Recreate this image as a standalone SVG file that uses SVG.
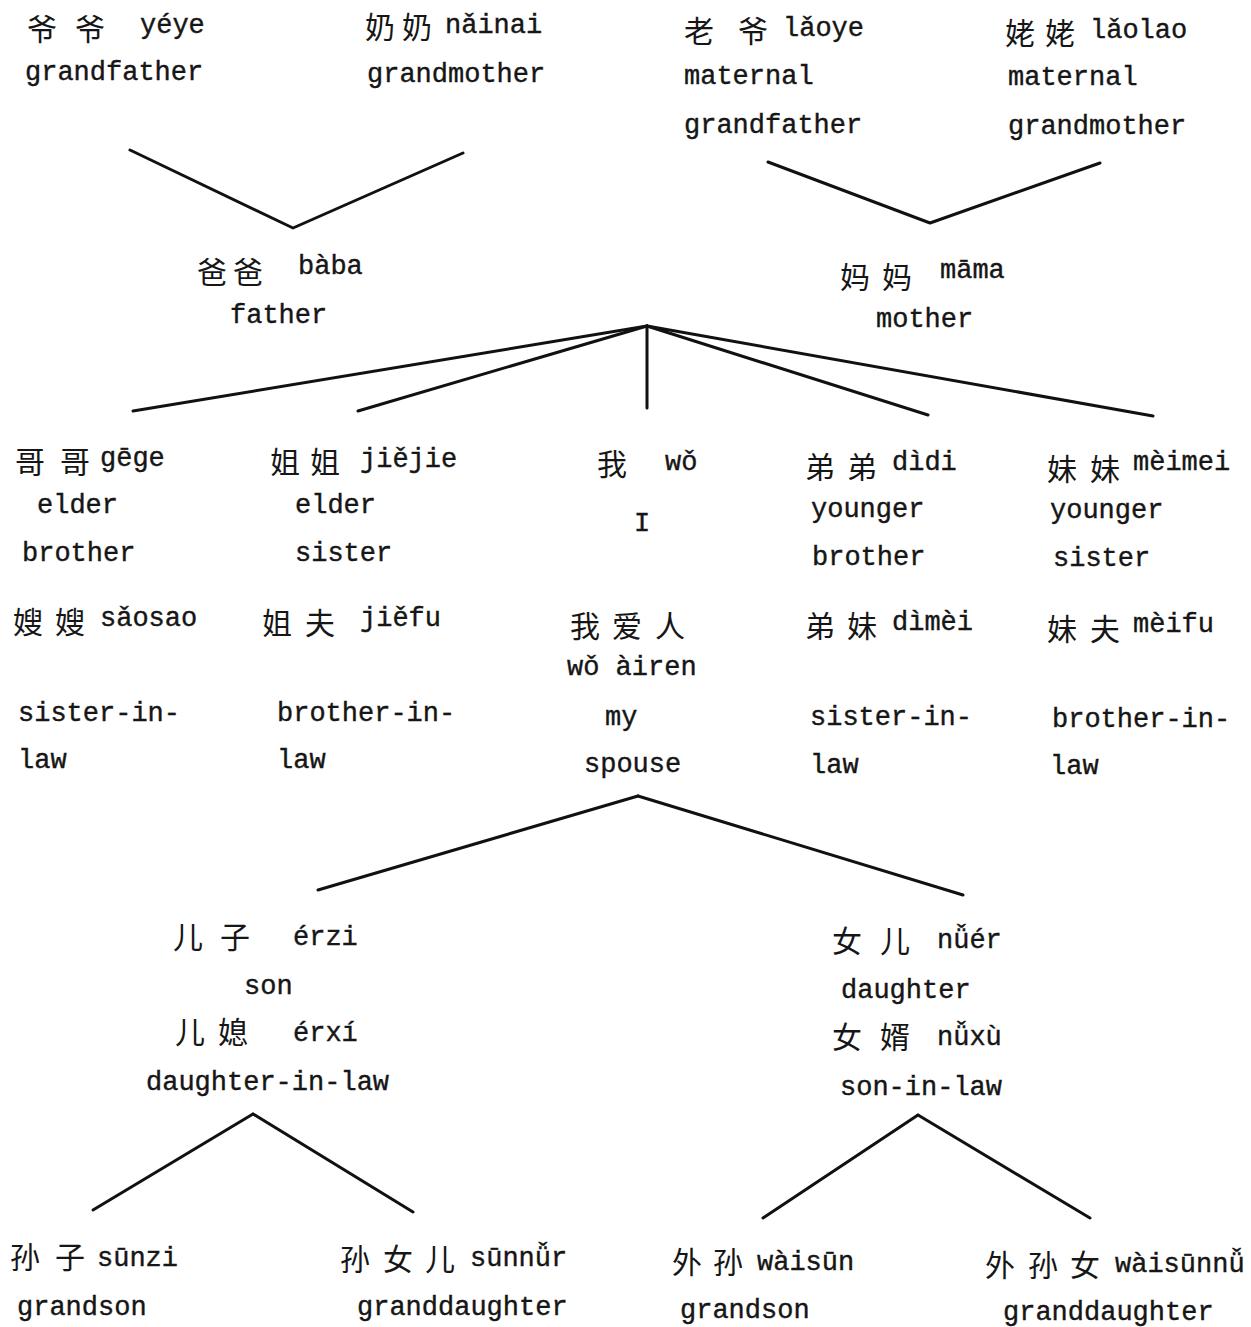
<svg xmlns="http://www.w3.org/2000/svg" width="1251" height="1327" viewBox="0 0 1251 1327">
<style>
.l{font-family:"Liberation Mono","DejaVu Sans Mono",monospace;font-size:27px;fill:#161616;stroke:#161616;stroke-width:0.4}
.c{font-family:"Noto Sans CJK SC","Noto Sans CJK TC",sans-serif;font-size:30px;fill:#161616}
.e{stroke:#111;stroke-width:3;fill:none;stroke-linecap:round;stroke-linejoin:round}
</style>
<rect width="1251" height="1327" fill="#fff"/>
<g id="connectors">
<polyline class="e" points="130,150 293,228 463,153"/>
<polyline class="e" points="768,162 930,223 1100,163"/>
<line class="e" x1="647" y1="326" x2="133" y2="411"/>
<line class="e" x1="647" y1="326" x2="358" y2="411"/>
<line class="e" x1="647" y1="326" x2="647" y2="408"/>
<line class="e" x1="647" y1="326" x2="928" y2="415"/>
<line class="e" x1="647" y1="326" x2="1153" y2="416"/>
<line class="e" x1="638" y1="796" x2="318" y2="890"/>
<line class="e" x1="638" y1="796" x2="963" y2="895"/>
<line class="e" x1="253" y1="1114" x2="93" y2="1210"/>
<line class="e" x1="253" y1="1114" x2="413" y2="1212"/>
<line class="e" x1="918" y1="1115" x2="763" y2="1218"/>
<line class="e" x1="918" y1="1115" x2="1090" y2="1218"/>
</g>
<g id="yeye"><text class="c" x="27 75" y="40">爷爷</text><text class="l" x="140" y="33">yéye</text><text class="l" x="25" y="80">grandfather</text></g>
<g id="nainai"><text class="c" x="365 402" y="38">奶奶</text><text class="l" x="445" y="33">nǎinai</text><text class="l" x="367" y="82">grandmother</text></g>
<g id="laoye"><text class="c" x="684 738" y="42">老爷</text><text class="l" x="783" y="36">lǎoye</text><text class="l" x="684" y="84">maternal</text><text class="l" x="684" y="133">grandfather</text></g>
<g id="laolao"><text class="c" x="1005 1045" y="44">姥姥</text><text class="l" x="1090" y="38">lǎolao</text><text class="l" x="1008" y="85">maternal</text><text class="l" x="1008" y="134">grandmother</text></g>
<g id="baba"><text class="c" x="197 233" y="283">爸爸</text><text class="l" x="298" y="274">bàba</text><text class="l" x="230" y="323">father</text></g>
<g id="mama"><text class="c" x="840 882" y="288">妈妈</text><text class="l" x="940" y="278">māma</text><text class="l" x="876" y="327">mother</text></g>
<g id="gege"><text class="c" x="15 60" y="473">哥哥</text><text class="l" x="100" y="466">gēge</text><text class="l" x="37" y="513">elder</text><text class="l" x="22" y="561">brother</text></g>
<g id="jiejie"><text class="c" x="270 310" y="473">姐姐</text><text class="l" x="360" y="467">jiějie</text><text class="l" x="295" y="513">elder</text><text class="l" x="295" y="561">sister</text></g>
<g id="wo"><text class="c" x="597" y="475">我</text><text class="l" x="665" y="470">wǒ</text><text class="l" x="634" y="531">I</text></g>
<g id="didi"><text class="c" x="805 847" y="478">弟弟</text><text class="l" x="892" y="470">dìdi</text><text class="l" x="811" y="517">younger</text><text class="l" x="812" y="565">brother</text></g>
<g id="meimei"><text class="c" x="1047 1090" y="480">妹妹</text><text class="l" x="1133" y="470">mèimei</text><text class="l" x="1050" y="518">younger</text><text class="l" x="1053" y="566">sister</text></g>
<g id="saosao"><text class="c" x="13 55" y="633">嫂嫂</text><text class="l" x="100" y="626">sǎosao</text><text class="l" x="18" y="721">sister-in-</text><text class="l" x="18" y="768">law</text></g>
<g id="jiefu"><text class="c" x="262 305" y="634">姐夫</text><text class="l" x="360" y="626">jiěfu</text><text class="l" x="277" y="721">brother-in-</text><text class="l" x="277" y="768">law</text></g>
<g id="airen"><text class="c" x="570 612 655" y="637">我爱人</text><text class="l" x="567" y="675">wǒ àiren</text><text class="l" x="605" y="725">my</text><text class="l" x="584" y="772">spouse</text></g>
<g id="dimei"><text class="c" x="805 847" y="637">弟妹</text><text class="l" x="892" y="630">dìmèi</text><text class="l" x="810" y="725">sister-in-</text><text class="l" x="810" y="773">law</text></g>
<g id="meifu"><text class="c" x="1047 1090" y="640">妹夫</text><text class="l" x="1133" y="632">mèifu</text><text class="l" x="1052" y="727">brother-in-</text><text class="l" x="1050" y="774">law</text></g>
<g id="erzi"><text class="c" x="173 220" y="948">儿子</text><text class="l" x="293" y="945">érzi</text><text class="l" x="244" y="994">son</text></g>
<g id="erxi"><text class="c" x="175 218" y="1043">儿媳</text><text class="l" x="293" y="1041">érxí</text><text class="l" x="146" y="1090">daughter-in-law</text></g>
<g id="nuer"><text class="c" x="832 880" y="952">女儿</text><text class="l" x="937" y="948">nǚér</text><text class="l" x="841" y="998">daughter</text></g>
<g id="nuxu"><text class="c" x="832 880" y="1048">女婿</text><text class="l" x="937" y="1045">nǚxù</text><text class="l" x="840" y="1095">son-in-law</text></g>
<g id="sunzi"><text class="c" x="10 55" y="1268">孙子</text><text class="l" x="97" y="1266">sūnzi</text><text class="l" x="17" y="1315">grandson</text></g>
<g id="sunnur"><text class="c" x="340 383 425" y="1270">孙女儿</text><text class="l" x="470" y="1266">sūnnǚr</text><text class="l" x="357" y="1315">granddaughter</text></g>
<g id="waisun"><text class="c" x="672 713" y="1273">外孙</text><text class="l" x="757" y="1270">wàisūn</text><text class="l" x="680" y="1318">grandson</text></g>
<g id="waisunnu"><text class="c" x="985 1028 1070" y="1276">外孙女</text><text class="l" x="1115" y="1272">wàisūnnǚ</text><text class="l" x="1003" y="1320">granddaughter</text></g>
</svg>
